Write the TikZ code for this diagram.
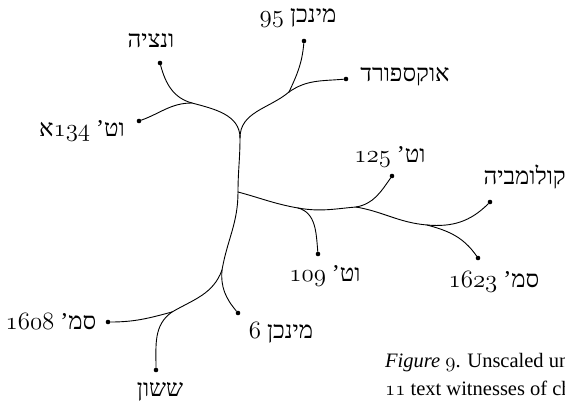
\documentclass[tikz,border=0pt]{standalone}
\usepackage{fontspec}
\setmainfont{Liberation Serif}
\newfontfamily\hebfont[Script=Hebrew]{Liberation Serif}
\TeXXeTstate=1
\usetikzlibrary{positioning}

% old-style figures taken from the math italic font
\newcommand\osnum[1]{\beginL{\fontencoding{OML}\fontfamily{lmm}\fontseries{m}\fontshape{it}\selectfont #1}\endL}
\newcommand\heb[1]{{\hebfont\beginR #1\endR}}

\begin{document}
\begin{tikzpicture}[
  x=1pt, y=-1pt,
  branch/.style={line width=0.9pt, line cap=round},
  leaf/.style={circle, fill, inner sep=0pt, minimum size=4.6pt},
  lbl/.style={inner sep=0pt, font=\fontsize{24}{28}\selectfont},
  capt/.style={inner sep=0pt, anchor=west, font=\fontsize{20.5}{25}\selectfont}
]
\useasboundingbox (0,0) rectangle (565,407);

% inner junctions
\coordinate (j1) at (240,138);
\coordinate (ja) at (192,103);
\coordinate (jb) at (289,92);
\coordinate (j2) at (238,192);
\coordinate (jc) at (298,208);
\coordinate (jd) at (356,207);
\coordinate (je) at (427,225);
\coordinate (j3) at (222,270);
\coordinate (jf) at (172,312);

% witnesses
\node[leaf] (ven)    at (160,63)  {};
\node[leaf] (vat134) at (139,121) {};
\node[leaf] (mun95)  at (304,41)  {};
\node[leaf] (oxf)    at (346,79)  {};
\node[leaf] (vat125) at (392,176) {};
\node[leaf] (col)    at (490,202) {};
\node[leaf] (vat109) at (318,254) {};
\node[leaf] (sam1623) at (478,258) {};
\node[leaf] (mun6)   at (238,313) {};
\node[leaf] (sam1608) at (108,322) {};
\node[leaf] (sas)    at (156,370) {};

% tree
\draw[branch] (j1) to[out=90, in=-15] (ja);
\draw[branch] (ja) to[out=165, in=-75] (ven);
\draw[branch] (ja) to[out=180, in=20] (vat134);
\draw[branch] (j1) to[out=90, in=-140] (jb);
\draw[branch] (jb) to[out=65, in=-95] (mun95);
\draw[branch] (jb) to[out=35, in=185] (oxf);
\draw[branch] (j1) to[out=-90, in=90] (j2);
\draw[branch] (j2) to[out=-15, in=170] (jc);
\draw[branch] (jc) to[out=-10, in=185] (jd);
\draw[branch] (jc) to[out=-15, in=95] (vat109);
\draw[branch] (jd) to[out=10, in=-125] (vat125);
\draw[branch] (jd) to[out=-10, in=175] (je);
\draw[branch] (je) to[out=-5, in=-135] (col);
\draw[branch] (je) to[out=-15, in=125] (sam1623);
\draw[branch] (j2) to[out=-90, in=80] (j3);
\draw[branch] (j3) to[out=-95, in=130] (mun6);
\draw[branch] (j3) to[out=-110, in=30] (jf);
\draw[branch] (jf) to[out=195, in=0] (sam1608);
\draw[branch] (jf) to[out=215, in=90] (sas);

% labels
\node[lbl] (venL)    at (151,41)  {\heb{ונציה}};
\node[lbl] (vat134L) at (82,131)  {\heb{וט’ \osnum{134}א}};
\node[lbl] (mun95L)  at (298,18)  {\heb{מינכן \osnum{95}}};
\node[lbl] (oxfL)    at (405,77)  {\heb{אוקספורד}};
\node[lbl] (vat125L) at (390,157) {\heb{וט’ \osnum{125}}};
\node[lbl, anchor=east] (colL) at (566,177) {\heb{קולומביה}};
\node[lbl] (vat109L) at (325,276) {\heb{וט’ \osnum{109}}};
\node[lbl] (sam1623L) at (494,282) {\heb{סמ’ \osnum{1623}}};
\node[lbl] (mun6L)   at (281,333) {\heb{מינכן \osnum{6}}};
\node[lbl] (sam1608L) at (51,322) {\heb{סמ’ \osnum{1608}}};
\node[lbl] (sasL)    at (160,392) {\heb{ששון}};

% caption, cut at the right edge
\node[capt] (cap1) at (385,363) {\textit{Figure} \osnum{9}. Unscaled un};
\node[capt] (cap2) at (385,388) {\osnum{11} text witnesses of ch};

\end{tikzpicture}
\end{document}
